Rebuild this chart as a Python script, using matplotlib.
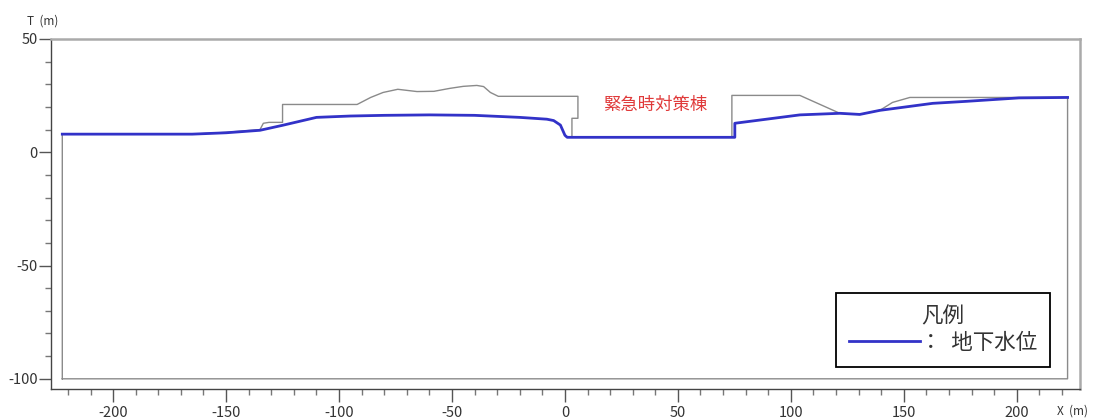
import matplotlib
matplotlib.use("Agg")
from matplotlib import pyplot as plt
from matplotlib.ticker import MultipleLocator

plt.rcParams["font.family"] = ["Noto Sans CJK JP", "DejaVu Sans"]
plt.rcParams["axes.unicode_minus"] = False

# model domain (m)
domain_left = -222.5
domain_right = 222.5
domain_bottom = -100.0

# ground surface along the section, X (m) / T (m)
ground_x = [-222.5, -165, -150, -135, -133.5, -131, -125, -125, -92, -86,
            -80.5, -74, -65.5, -58, -51, -45, -39, -36, -33, -29.5,
            5.75, 5.75, 3.1, 3.1, 73.9, 73.9, 104, 121.7, 130.5, 139.4,
            145, 152.7, 222.5]
ground_y = [8.0, 8.0, 8.8, 10.0, 12.8, 13.2, 13.2, 21.1, 21.1, 24.2,
            26.4, 27.8, 26.8, 26.9, 28.2, 29.1, 29.5, 29.0, 26.4, 24.7,
            24.7, 15.0, 15.0, 6.6, 6.6, 25.1, 25.1, 17.2, 16.7, 18.5,
            22.0, 24.2, 24.2]

# groundwater level
water_x = [-222.5, -165, -150, -135, -125, -110, -95, -80, -60, -40,
           -20, -8, -5, -2, 0, 1, 75.2, 75.2, 104, 121.7,
           130.5, 139.4, 162.8, 178, 201, 222.5]
water_y = [8.0, 8.0, 8.6, 9.7, 11.9, 15.4, 16.0, 16.3, 16.5, 16.3,
           15.4, 14.6, 14.0, 12.0, 7.5, 6.6, 6.6, 12.8, 16.5, 17.2,
           16.7, 18.5, 21.6, 22.5, 24.0, 24.2]

building_label = "緊急時対策棟"
building_pos = (40, 21)


def main():
    fig = plt.figure(figsize=(10.97, 4.19), dpi=100)
    ax = fig.add_axes([51 / 1097, 30 / 419, 1029 / 1097, 350 / 419])

    # outline of the model: surface plus the side and bottom boundaries
    outline_x = [domain_left] + ground_x + [domain_right, domain_right, domain_left, domain_left]
    outline_y = [domain_bottom] + ground_y + [ground_y[-1], domain_bottom, domain_bottom, domain_bottom]
    ax.plot(outline_x, outline_y, color="#8a8a8a", lw=1.0, zorder=2)

    water, = ax.plot(water_x, water_y, color="#3232c8", lw=2.0, zorder=3)

    ax.text(*building_pos, building_label, color="#e03a3a", fontsize=12.5,
            ha="center", va="center")

    ax.set_xlim(-227.5, 228)
    ax.set_ylim(-104.5, 50)

    ax.xaxis.set_major_locator(MultipleLocator(50))
    ax.xaxis.set_minor_locator(MultipleLocator(10))
    ax.yaxis.set_major_locator(MultipleLocator(50))
    ax.yaxis.set_minor_locator(MultipleLocator(10))
    ax.tick_params(which="major", direction="out", length=9, width=1,
                   color="#555555", labelsize=10.5, labelcolor="#333333", pad=3)
    ax.tick_params(axis="y", which="major", pad=0.5)
    ax.tick_params(which="minor", direction="out", length=4, width=1, color="#777777")

    for side in ("left", "bottom"):
        ax.spines[side].set_color("#444444")
        ax.spines[side].set_linewidth(1.0)
    for side in ("top", "right"):
        ax.spines[side].set_color("#aaaaaa")
        ax.spines[side].set_linewidth(1.8)

    # axis captions sit at the ends of the axes
    fig.text(27 / 1097, 1 - 21 / 419, "T  (m)", fontsize=8.5, color="#333333",
             ha="left", va="center")
    fig.text(1057 / 1097, 1 - 411 / 419, "X  (m)", fontsize=8.5, color="#333333",
             ha="left", va="center")

    leg = ax.legend([water], ["：  地下水位"], title="凡例",
                    loc="lower right", bbox_to_anchor=(0.971, 0.063),
                    borderaxespad=0, fancybox=False, frameon=True,
                    edgecolor="black", framealpha=1,
                    fontsize=15.5, title_fontsize=15.5,
                    handlelength=3.3, handletextpad=0.0,
                    borderpad=0.6, labelspacing=0.2)
    leg.get_frame().set_linewidth(1.3)
    for t in leg.get_texts():
        t.set_color("#333333")
    leg.get_title().set_color("#333333")

    fig.savefig("out.png", dpi=100)


if __name__ == "__main__":
    main()
